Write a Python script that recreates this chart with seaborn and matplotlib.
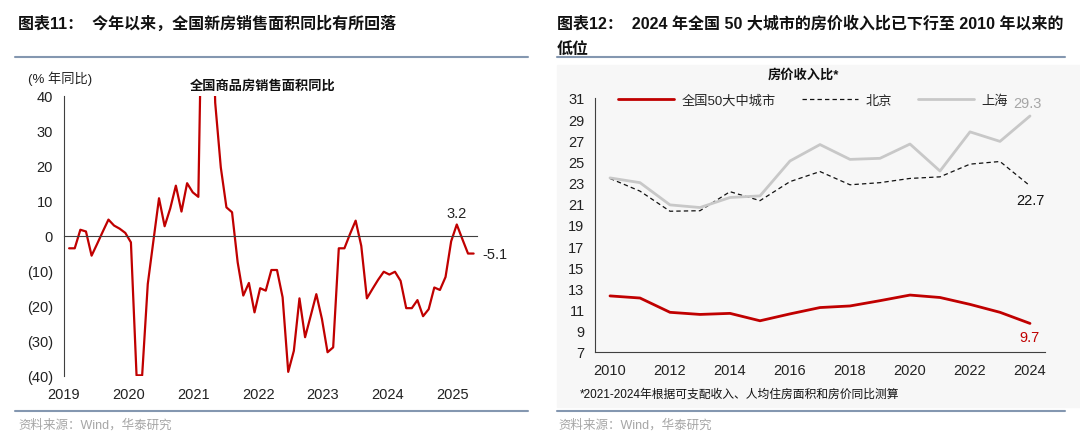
import numpy as np
import pandas as pd
import matplotlib
matplotlib.use("Agg")
import matplotlib.pyplot as plt
import seaborn as sns
from matplotlib.patches import Rectangle
from matplotlib.lines import Line2D

sns.set_style("white")
plt.rcParams['font.family'] = ['Liberation Sans', 'Noto Sans CJK SC']
plt.rcParams['axes.unicode_minus'] = False

# left chart: monthly yoy of new home sales area, Jan 2019 .. Feb 2025
sales_yoy = [np.nan, -3.6, -3.6, 1.7, 1.2, -5.7, -2.3, 1.2, 4.6, 2.9, 2.0, 0.8,
             -1.9, -39.9, -39.9, -13.8, -1.5, 10.7, 2.7, 7.8, 14.3, 6.9, 15.0, 12.4,
             11.1, 104.9, 104.9, 38.0, 19.5, 8.1, 6.7, -7.6, -17.1, -13.5, -21.9, -15.0,
             -15.7, -9.8, -9.8, -17.6, -38.9, -32.9, -17.9, -29.0, -22.9, -16.7, -23.8, -33.3,
             -31.9, -3.6, -3.6, 0.5, 4.3, -2.9, -17.9, -15.2, -12.6, -10.3, -11.1, -10.3,
             -12.9, -20.7, -20.7, -18.4, -23.0, -21.0, -14.8, -15.5, -11.8, -1.6, 3.2, -1.0,
             -5.1, -5.1]
left_years = ["2019", "2020", "2021", "2022", "2023", "2024", "2025"]
left_yticks = [-40, -30, -20, -10, 0, 10, 20, 30, 40]

# right chart: house price to income ratio
years = list(range(2010, 2025))
national = [12.3, 12.1, 10.75, 10.55, 10.65, 9.95, 10.6, 11.2, 11.35, 11.85, 12.38, 12.15, 11.5, 10.75, 9.7]
beijing = [23.4, 22.2, 20.3, 20.35, 22.15, 21.3, 23.1, 24.05, 22.8, 23.0, 23.4, 23.55, 24.75, 25.0, 22.7]
shanghai = [23.45, 23.0, 20.9, 20.65, 21.6, 21.75, 25.05, 26.6, 25.2, 25.3, 26.65, 24.1, 27.8, 26.9, 29.3]

RED = "#C00000"
GRAY = "#C8C8C8"
AX = "#404040"

fig = plt.figure(figsize=(10.8, 4.39), dpi=100)
fig.patches.append(Rectangle((557 / 1080, 1 - 408 / 439), 523 / 1080, 342 / 439,
                             transform=fig.transFigure, color="#F7F7F7", zorder=-10))

# headers and separators
fig.text(18 / 1080, 1 - 24 / 439, "图表11：  今年以来，全国新房销售面积同比有所回落",
         fontsize=11.5, fontweight="bold", va="center", ha="left", color="#111")
fig.text(557 / 1080, 1 - 23.5 / 439, "图表12：  2024 年全国 50 大城市的房价收入比已下行至 2010 年以来的",
         fontsize=11.5, fontweight="bold", va="center", ha="left", color="#111")
fig.text(557 / 1080, 1 - 49 / 439, "低位", fontsize=11.5, fontweight="bold",
         va="center", ha="left", color="#111")
for x0, x1 in [(15, 528), (557, 1065)]:
    for yy in [58, 412]:
        fig.add_artist(Line2D([x0 / 1080, x1 / 1080], [1 - yy / 439, 1 - yy / 439],
                              transform=fig.transFigure, color="#8497B0", lw=1.5))
fig.text(18 / 1080, 1 - 425 / 439, "资料来源：Wind，华泰研究", fontsize=9, color="#A6A6A6", va="center")
fig.text(558 / 1080, 1 - 425 / 439, "资料来源：Wind，华泰研究", fontsize=9, color="#A6A6A6", va="center")

# ---- left chart
ax1 = fig.add_axes([63.5 / 1080, 1 - 376.7 / 439, 413.5 / 1080, 280 / 439])
ax1.set_facecolor("none")
m = np.arange(len(sales_yoy))
sns.lineplot(x=m, y=sales_yoy, ax=ax1, color=RED, lw=1.6)
ax1.set_xlim(0, 73.6)
ax1.set_ylim(-40, 40)
ax1.set_yticks(left_yticks)
ax1.set_yticklabels([f"({abs(v)})" if v < 0 else f"{v}" for v in left_yticks])
for s in ["top", "right"]:
    ax1.spines[s].set_visible(False)
ax1.spines["left"].set_color(AX)
ax1.spines["bottom"].set_color(AX)
ax1.spines["bottom"].set_position(("data", 0))
ax1.set_xticks(np.arange(0, 73, 12))
ax1.tick_params(axis="x", direction="out", length=3.5, color=AX, labelbottom=False)
ax1.tick_params(axis="y", direction="out", length=3.5, color=AX, labelsize=10.5, pad=4, labelcolor="#222")
sec = ax1.secondary_xaxis("bottom")
sec.set_xticks(np.arange(len(left_years)) * 11.55, left_years)
sec.tick_params(length=0, pad=8, labelsize=10.5, labelcolor="#222")
sec.spines["bottom"].set_visible(False)
ax1.annotate("3.2", (70, 3.2), xytext=(0, 3), textcoords="offset points",
             ha="center", va="bottom", fontsize=10.5, color="#222")
ax1.annotate("-5.1", (73, -5.1), xytext=(6, 0), textcoords="offset points",
             ha="left", va="center", fontsize=10.5, color="#222")
fig.text(28 / 1080, 1 - 78.5 / 439, "(% 年同比)", fontsize=9.5, va="center", color="#222")
fig.text(263 / 1080, 1 - 86 / 439, "全国商品房销售面积同比", fontsize=9.5, fontweight="bold",
         va="center", ha="center", color="#111")

# ---- right chart
ax2 = fig.add_axes([595 / 1080, 1 - 353 / 439, 450 / 1080, 254 / 439])
ax2.set_facecolor("none")
sns.lineplot(x=years, y=national, ax=ax2, color=RED, lw=2, label="全国50大中城市")
sns.lineplot(x=years, y=beijing, ax=ax2, color="#111", lw=0.9, linestyle=(0, (3.5, 2.5)), label="北京")
sns.lineplot(x=years, y=shanghai, ax=ax2, color=GRAY, lw=2, label="上海")
ax2.set_xlim(2009.5, 2024.5)
ax2.set_ylim(7, 31)
ax2.set_yticks(range(7, 32, 2))
ax2.set_xticks(years[::2])
ax2.set_xticks(np.array(years[::2]) - 0.5, minor=True)
for s in ["top", "right"]:
    ax2.spines[s].set_visible(False)
ax2.spines["left"].set_color(AX)
ax2.spines["bottom"].set_color(AX)
ax2.tick_params(axis="x", which="major", length=0, pad=8, labelsize=10.5, labelcolor="#222")
ax2.tick_params(axis="x", which="minor", direction="out", length=3.5, color=AX)
ax2.tick_params(axis="y", direction="out", length=3.5, color=AX, labelsize=10.5, pad=4, labelcolor="#222")
ax2.set_xlabel("")
ax2.legend(loc="center left", bbox_to_anchor=(0.04, 0.99), ncol=3, frameon=False,
           fontsize=9.5, handlelength=4.2, columnspacing=2.0, handletextpad=0.6, borderaxespad=0)
ax2.annotate("29.3", (2024, shanghai[-1]), xytext=(-2, 4), textcoords="offset points",
             ha="center", va="bottom", fontsize=10.5, color="#A6A6A6")
ax2.annotate("22.7", (2024, beijing[-1]), xytext=(0, -5), textcoords="offset points",
             ha="center", va="top", fontsize=10.5, color="#111")
ax2.annotate("9.7", (2024, national[-1]), xytext=(0, -5), textcoords="offset points",
             ha="center", va="top", fontsize=10.5, color=RED)
fig.text(803 / 1080, 1 - 75.5 / 439, "房价收入比*", fontsize=9.5, fontweight="bold",
         va="center", ha="center", color="#111")
fig.text(580 / 1080, 1 - 395 / 439, "*2021-2024年根据可支配收入、人均住房面积和房价同比测算",
         fontsize=8.5, va="center", ha="left", color="#111")

fig.savefig("out.png", dpi=100)
